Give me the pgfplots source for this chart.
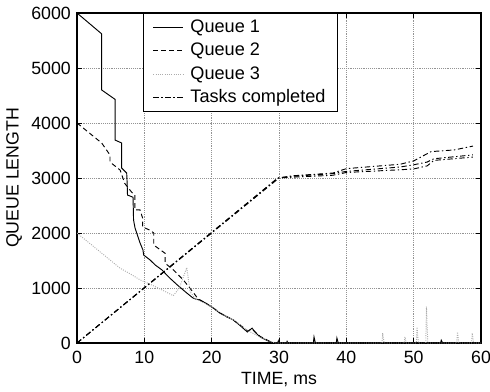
\documentclass[border=0pt]{standalone}
\usepackage{fontspec}
\setmainfont{Liberation Sans}
\usepackage{pgfplots}
\pgfplotsset{compat=1.18}
\usetikzlibrary{calc}
\begin{document}
\fontsize{13.3}{15}\selectfont
\begin{tikzpicture}
\begin{axis}[
  scale only axis,
  width=303pt, height=247.5pt,
  xmin=0, xmax=60, ymin=0, ymax=6000,
  xtick={0,10,...,60}, ytick={0,1000,...,6000},
  tick align=inside, tick pos=both,
  major tick length=3.5pt,
  grid=major,
  grid style={densely dotted, line width=0.45pt, gray!85},
  axis line style={line width=1pt},
  every tick/.style={black, line width=0.6pt},
  /pgf/number format/assume math mode=true,
  /pgf/number format/set thousands separator={},
  ticklabel style={font=\fontsize{13.3}{15}\selectfont},
  xticklabel style={yshift=-1.5pt},
  label style={font=\fontsize{13.3}{15}\selectfont},
  xlabel={TIME, ms}, ylabel={QUEUE LENGTH},
  xlabel style={yshift=3pt},
  ylabel style={yshift=-2pt},
  legend style={at={(rel axis cs:0.1634,1)}, anchor=north west, draw=black, line width=0.7pt,
    font=\fontsize{13.6}{15}\selectfont, inner xsep=7pt, inner ysep=2.5pt,
    nodes={inner xsep=2pt, inner ysep=2.2pt}, column sep=3pt, row sep=1.6pt},
  legend cell align=left,
  legend image code/.code={\draw[#1] (0pt,0pt) -- (22.5pt,0pt);},
]
% Queue 1
\addplot[black, line width=0.7pt] coordinates {
(0,6000) (3.67,5620) (3.67,4600) (5.65,4430) (5.65,3690) (6.64,3636) (6.64,3180) (7.38,3090) (7.45,2900) (7.5,2690)
(8.32,2650) (8.4,2236) (8.62,2090) (9.36,1820) (9.8,1690) (9.9,1600) (10.85,1510) (11.6,1420) (12.6,1330)
(13.7,1190) (14.9,1055) (16.0,940) (17.2,820) (17.6,800) (18.3,780) (19.2,720) (20.2,640) (21.2,545) (22.2,480)
(23.2,420) (24.2,320) (25.3,200) (26.0,270) (26.5,190) (27.2,110) (28.0,60) (28.7,20) (29.3,0) (29.8,0) (29.9,40) (30.0,0)
(31.1,0) (31.2,30) (31.3,0) (35.1,0) (35.2,110) (35.4,0) (38.5,0) (38.6,90) (38.8,0) (54.0,0) (54.1,50) (54.3,0) (60,0)
};
\addlegendentry{Queue 1}
% Queue 2
\addplot[black, line width=0.7pt, dash pattern=on 3.6pt off 2.4pt] coordinates {
(0,4000) (3.67,3636) (4.9,3418) (4.9,3290) (6.4,3145) (7.1,2900) (8.1,2745) (8.6,2690) (8.6,2420) (9.36,2420)
(9.75,2270) (9.75,2110) (10.85,2050) (11.4,2000) (11.4,1780) (13.1,1630) (13.1,1450) (14.3,1330) (15.8,1145)
(17.2,930) (18.0,800) (19.0,730) (20.2,640) (21.2,550) (22.2,480) (23.2,420) (24.2,330) (25.3,220) (26.0,250)
(27.2,120) (28.0,70) (28.8,20) (29.3,0) (60,0)
};
\addlegendentry{Queue 2}
% Queue 3
\addplot[gray!65, line width=0.7pt, densely dotted] coordinates {
(0,2000) (3.0,1700) (6.4,1360) (8.0,1250) (9.4,1145) (11.1,1055) (12.7,960) (14.3,860) (15.2,1000) (16.3,1370)
(16.8,930) (17.6,800) (19.0,720) (20.2,640) (22.0,500) (23.5,400) (25.3,230) (27,120) (28.5,40) (29.5,0)
(45.3,0) (45.4,180) (45.6,0) (48.6,0) (48.7,110) (48.9,0) (50.4,0) (50.5,290) (50.7,0) (51.8,0) (51.9,660) (52.1,0)
(56.4,0) (56.5,200) (56.7,0) (58.6,0) (58.7,180) (58.9,0) (60,0)
};
\addlegendentry{Queue 3}
% Tasks completed
\addplot[black, line width=0.7pt, dash pattern=on 4pt off 2pt on 1pt off 2pt] coordinates {
(0,0) (29.8,3000) (32,3040) (38,3090) (40,3170) (48,3250) (50,3310) (51.2,3390) (52.6,3480) (56,3510) (58.8,3580)
};
\addlegendentry{Tasks completed}
\addplot[forget plot, black, line width=0.7pt, dash pattern=on 4pt off 2pt on 1pt off 2pt] coordinates {
(0,0) (29.9,3000) (32,3030) (38,3080) (40,3120) (48,3200) (50,3240) (52,3290) (53,3350) (58.8,3420)
};
\addplot[forget plot, black, line width=0.7pt, dash pattern=on 4pt off 2pt on 1pt off 2pt] coordinates {
(0,0) (30,3000) (32,3015) (38,3050) (40,3100) (48,3150) (50,3165) (52,3220) (53,3320) (58.8,3380)
};
\end{axis}
\pgfresetboundingbox
\path ($(current axis.south west)+(-57.75pt,-36pt)$) rectangle ($(current axis.north east)+(6.75pt,9.75pt)$);
\end{tikzpicture}
\end{document}
